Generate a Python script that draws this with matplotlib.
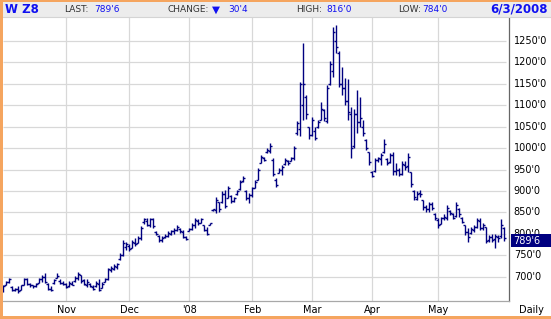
import numpy as np
import pandas as pd
import matplotlib
matplotlib.use("Agg")
import matplotlib.pyplot as plt
from matplotlib.patches import Rectangle
from matplotlib.lines import Line2D
import matplotlib.transforms as mtransforms

# daily OHLC of the contract, Oct 3 2007 .. Jun 3 2008
highs = [682, 690, 697, 678, 674, 678, 682, 698, 698, 686, 682, 686, 698, 704, 709, 686, 678, 694, 709, 694, 690,
         686, 690, 690, 701, 711, 705, 695, 694, 686, 682, 690, 694, 688, 698, 721, 725, 729, 733, 756, 786, 782,
         776, 786, 790, 796, 818, 838, 836, 838, 836, 806, 798, 796, 800, 806, 810, 814, 820, 814, 809, 796,
         813, 825, 837, 834, 837, 821, 817, 826, 858, 887, 875, 899, 903, 912, 891, 887, 903, 926, 934, 903, 895,
         910, 926, 953, 984, 980, 1000, 1011, 976, 930, 953, 961, 976, 973, 980, 1004, 1062, 1153, 1244, 1124, 1050,
         1073, 1050, 1066, 1108, 1090, 1147, 1202, 1283, 1287, 1226, 1190, 1163, 1160, 1095, 1090, 1136, 1120, 1065, 1022, 992,
         946, 977, 980, 988, 1021, 976, 988, 990, 965, 953, 969, 969, 988, 945, 903, 899, 903, 879, 868, 875, 875, 848,
         836, 840, 846, 868, 856, 848, 875, 860, 840, 821, 813, 817, 821, 836, 836, 825, 817, 797, 801, 801, 797,
         834, 816]
lows = [664, 680, 685, 668, 666, 662, 669, 681, 681, 677, 673, 676, 686, 689, 685, 669, 667, 684, 697, 684, 680,
        673, 677, 680, 688, 693, 685, 680, 677, 676, 669, 677, 666, 673, 688, 693, 711, 715, 719, 740, 748, 763,
        760, 768, 772, 778, 786, 824, 818, 816, 814, 797, 782, 781, 790, 794, 798, 800, 808, 803, 790, 785,
        806, 809, 813, 820, 825, 806, 798, 821, 854, 848, 852, 871, 860, 883, 871, 875, 891, 903, 922, 879, 871,
        887, 907, 926, 965, 969, 988, 988, 934, 910, 941, 937, 961, 961, 969, 973, 1031, 1027, 1066, 1068, 1022,
        1027, 1018, 1046, 1066, 1062, 1058, 1146, 1165, 1221, 1143, 1124, 1100, 1066, 978, 1000, 1035, 1050, 1027, 996, 961,
        933, 945, 968, 961, 988, 961, 965, 937, 937, 934, 937, 949, 945, 910, 879, 879, 887, 856, 852, 852, 855, 833,
        813, 824, 832, 833, 844, 834, 840, 840, 825, 798, 782, 801, 805, 813, 809, 809, 778, 782, 782, 767, 782,
        790, 784]
opens = [666, 681, 688, 676, 670, 672, 670, 682, 696, 684, 680, 678, 686, 694, 700, 684, 672, 686, 698, 690, 686,
         684, 678, 684, 690, 698, 704, 692, 682, 684, 676, 678, 684, 674, 688, 696, 716, 718, 724, 742, 750, 770,
         772, 768, 780, 778, 790, 828, 830, 822, 834, 804, 796, 786, 792, 796, 800, 806, 810, 812, 804, 792,
         808, 812, 822, 830, 826, 820, 810, 822, 855, 856, 874, 874, 892, 884, 888, 876, 892, 904, 924, 900, 884,
         890, 908, 926, 966, 978, 990, 994, 972, 926, 942, 950, 962, 970, 970, 976, 1034, 1045, 1100, 1120, 1048,
         1030, 1040, 1050, 1066, 1088, 1062, 1150, 1180, 1250, 1222, 1150, 1140, 1110, 1080, 1004, 1080, 1060, 1050, 1020, 990,
         944, 946, 972, 974, 990, 974, 968, 984, 946, 948, 940, 960, 958, 944, 900, 882, 896, 878, 862, 858, 870, 846,
         832, 824, 836, 838, 854, 846, 842, 858, 838, 820, 804, 802, 810, 816, 830, 814, 816, 786, 792, 788, 794,
         795, 815]
closes = [678, 688, 694, 670, 672, 668, 680, 695, 684, 680, 678, 684, 694, 700, 688, 672, 670, 692, 702, 686, 684,
          676, 686, 682, 698, 706, 690, 684, 688, 678, 672, 686, 670, 684, 694, 718, 720, 726, 730, 752, 778, 776,
          764, 782, 776, 790, 814, 834, 822, 834, 818, 800, 786, 790, 796, 802, 806, 810, 816, 806, 794, 788,
          812, 822, 832, 826, 834, 810, 800, 825, 857, 880, 858, 894, 866, 906, 876, 884, 900, 920, 930, 884, 890,
          906, 922, 948, 980, 972, 996, 1006, 940, 914, 950, 956, 972, 966, 978, 1000, 1058, 1150, 1150, 1080, 1030,
          1066, 1024, 1060, 1090, 1070, 1140, 1196, 1270, 1236, 1150, 1140, 1110, 1084, 1000, 1080, 1060, 1070, 1034, 1000, 968,
          936, 972, 976, 984, 1010, 966, 984, 946, 950, 940, 962, 956, 980, 916, 886, 894, 892, 862, 858, 870, 860, 836,
          820, 836, 840, 860, 848, 838, 868, 846, 828, 804, 792, 812, 816, 832, 814, 820, 784, 794, 786, 796, 790,
          820, 789.75]

holidays = ["2007-11-22", "2007-12-25", "2008-01-01", "2008-01-21",
            "2008-02-18", "2008-03-21", "2008-05-26"]
month_labels = ["Nov", "Dec", "'08", "Feb", "Mar", "Apr", "May"]
price_ticks = [700, 750, 800, 850, 900, 950, 1000, 1050, 1100, 1150, 1200, 1250]

header = [("LAST:", "789'6", 64), ("HIGH:", "816'0", 296), ("LOW:", "784'0", 398)]

W, H = 551, 319
NAVY = "#000080"
ORANGE = "#F5A55F"
BLUE = "#1010F0"
GRID = "#D8D8D8"


def fx(px):
    return px / W


def fy(py):
    return 1 - py / H


days = pd.bdate_range("2007-10-03", "2008-06-03")
days = days[~days.isin(pd.to_datetime(holidays))]
idx = np.arange(len(days))
m = np.asarray(days.month)
month_starts = (np.where(m[1:] != m[:-1])[0] + 1)[:len(month_labels)]

fig = plt.figure(figsize=(W / 100, H / 100), dpi=100)
fig.patch.set_facecolor("white")

ax = fig.add_axes([fx(2.7), fy(300.5), (509.3 - 2.7) / W, (300.5 - 18) / H])
ax.set_xlim(-0.2, len(days) + 0.67)
ax.set_ylim(645, 1303)

# grid
ax.hlines(price_ticks, -0.2, len(days) - 0.4, color=GRID, lw=0.9, zorder=1)
for s in month_starts:
    ax.axvline(s, color=GRID, lw=0.9, zorder=1)

# OHLC bars
ax.vlines(idx, lows, highs, color=NAVY, lw=1.0, zorder=3)
ax.hlines(opens, idx - 0.62, idx, color=NAVY, lw=1.0, zorder=3)
ax.hlines(closes, idx, idx + 0.62, color=NAVY, lw=1.0, zorder=3)

for side in ["top", "left"]:
    ax.spines[side].set_visible(False)
ax.spines["bottom"].set_color("#A8A8A8")
ax.spines["bottom"].set_linewidth(0.9)
ax.spines["right"].set_color("#666666")
ax.spines["right"].set_linewidth(0.9)
ax.set_xticks([])
ax.set_yticks([])

# right-hand price labels (800'0 sits partly under the last-price box, as in the source)
ytrans = mtransforms.blended_transform_factory(ax.transAxes, ax.transData)
for p in price_ticks:
    ax.text(1 + 4.5 / 506.6, p, f"{p}'0", transform=ytrans, ha="left", va="center",
            fontsize=7, color="black", clip_on=False)

# month labels
xtrans = mtransforms.blended_transform_factory(ax.transData, fig.transFigure)
for s, lab in zip(month_starts, month_labels):
    ax.text(s, fy(310), lab, transform=xtrans, ha="center", va="center",
            fontsize=7, color="black")
fig.text(fx(531), fy(310), "Daily", ha="center", va="center", fontsize=7, color="black")

# last price box
fig.add_artist(Rectangle((fx(511), fy(246.5)), fx(40), 12.5 / H, transform=fig.transFigure,
                         facecolor=NAVY, edgecolor="none", zorder=5))
fig.text(fx(513), fy(240.5), "789'6", ha="left", va="center", fontsize=7, color="white", zorder=6)

# frame and header band
fig.add_artist(Rectangle((0, fy(17)), 1, 15 / H, transform=fig.transFigure,
                         facecolor="#ECECEC", edgecolor="none", zorder=0))
fig.add_artist(Line2D([0, 1], [fy(17), fy(17)], color="#D4D4D4", lw=0.8))
fig.add_artist(Rectangle((0, fy(2)), 1, 2 / H, transform=fig.transFigure,
                         facecolor=ORANGE, edgecolor="none", zorder=7))
fig.add_artist(Rectangle((0, 0), 2.5 / W, 1, transform=fig.transFigure,
                         facecolor=ORANGE, edgecolor="none", zorder=7))
fig.add_artist(Rectangle((0, 0), 1, 3 / H, transform=fig.transFigure,
                         facecolor=ORANGE, edgecolor="none", zorder=7))

hy = fy(9.5)
fig.text(fx(5), hy, "W Z8", ha="left", va="center", fontsize=8.5, fontweight="bold", color=BLUE)
for lab, val, x0 in header:
    fig.text(fx(x0), hy, lab, ha="left", va="center", fontsize=6.5, color="#333333")
    w = len(lab) * 5.6 + 2
    fig.text(fx(x0 + w), hy, val, ha="left", va="center", fontsize=6.5, color=BLUE)
fig.text(fx(168), hy, "CHANGE:", ha="left", va="center", fontsize=6.5, color="#333333")
fig.text(fx(212), hy, "\u25BC", ha="left", va="center", fontsize=7.5, color=BLUE)
fig.text(fx(228), hy, "30'4", ha="left", va="center", fontsize=6.5, color=BLUE)
fig.text(fx(548), hy, "6/3/2008", ha="right", va="center", fontsize=8.5, fontweight="bold", color=BLUE)

fig.savefig("out.png", dpi=100)
